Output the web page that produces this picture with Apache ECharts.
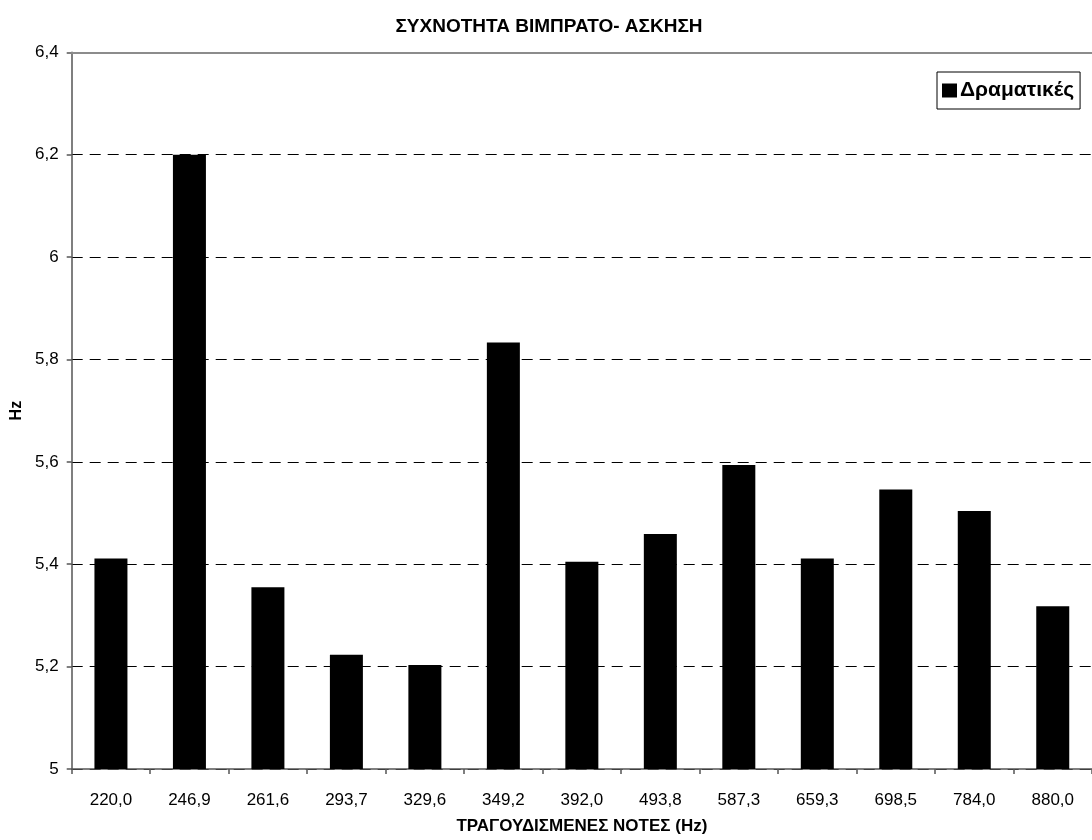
<!DOCTYPE html>
<html>
<head>
<meta charset="utf-8">
<script src="https://cdn.jsdelivr.net/npm/echarts@6/dist/echarts.min.js"></script>
<style>
html,body{margin:0;padding:0;background:#fff;}
#chart{width:1092px;height:840px;}
</style>
</head>
<body>
<div id="chart"></div>
<script>
const categories = ['220,0','246,9','261,6','293,7','329,6','349,2','392,0','493,8','587,3','659,3','698,5','784,0','880,0'];
const values = [5.411, 6.2, 5.355, 5.223, 5.203, 5.833, 5.405, 5.459, 5.594, 5.411, 5.546, 5.504, 5.318];
const seriesName = 'Δραματικές';
const titleText = 'ΣΥΧΝΟΤΗΤΑ ΒΙΜΠΡΑΤΟ- ΑΣΚΗΣΗ';
const xName = 'ΤΡΑΓΟΥΔΙΣΜΕΝΕΣ ΝΟΤΕΣ (Hz)';
const yName = 'Hz';

const FONT = "'Liberation Sans', Arial, sans-serif";

const chart = echarts.init(document.getElementById('chart'), null, {renderer: 'canvas'});
chart.setOption({
  animation: false,
  backgroundColor: '#fff',
  title: {
    text: titleText,
    left: 544, top: 12, textAlign: 'center',
    textStyle: {fontFamily: FONT, fontSize: 19, fontWeight: 'bold', color: '#000'}
  },
  legend: {
    data: [seriesName],
    left: 937, top: 72,
    orient: 'horizontal',
    borderColor: '#000', borderWidth: 1,
    padding: [8, 6, 8, 5],
    itemWidth: 15, itemHeight: 14, itemGap: 4,
    icon: 'rect',
    textStyle: {fontFamily: FONT, fontSize: 21, fontWeight: 'bold', color: '#000', padding: [0,0,0,-2]}
  },
  grid: {left: 71.7, top: 52.3, width: 1021.5, height: 717, containLabel: false},
  xAxis: [{
    type: 'category',
    data: categories,
    position: 'bottom',
    axisLine: {show: true, lineStyle: {color: '#555', width: 1.5}},
    axisTick: {show: true, length: 5, alignWithLabel: false, lineStyle: {color: '#555', width: 1.5}},
    axisLabel: {margin: 23, fontFamily: FONT, fontSize: 17, color: '#000'},
    name: xName, nameLocation: 'middle', nameGap: 49,
    nameTextStyle: {fontFamily: FONT, fontSize: 17, fontWeight: 'bold', color: '#000'}
  }, {
    type: 'category',
    data: categories,
    position: 'top',
    z: 5,
    axisLine: {show: true, lineStyle: {color: '#8c8c8c', width: 2}},
    axisTick: {show: false},
    axisLabel: {show: false}
  }],
  yAxis: {
    type: 'value',
    min: 5, max: 6.4, interval: 0.2,
    axisLine: {show: true, lineStyle: {color: '#555', width: 1.5}},
    axisTick: {show: true, length: 5, lineStyle: {color: '#555', width: 1.5}},
    axisLabel: {
      margin: 13, fontFamily: FONT, fontSize: 17, color: '#000',
      formatter: function (v) { return String(Math.round(v * 10) / 10).replace('.', ','); }
    },
    splitLine: {show: true, lineStyle: {color: '#000', width: 1, type: [11, 7]}},
    name: yName, nameLocation: 'middle', nameGap: 46, nameRotate: 90,
    nameTextStyle: {fontFamily: FONT, fontSize: 16, fontWeight: 'bold', color: '#000'}
  },
  series: [{
    name: seriesName,
    type: 'bar',
    data: values,
    barWidth: 33,
    itemStyle: {color: '#000', borderColor: '#000', borderWidth: 0}
  }]
});
</script>
</body>
</html>
